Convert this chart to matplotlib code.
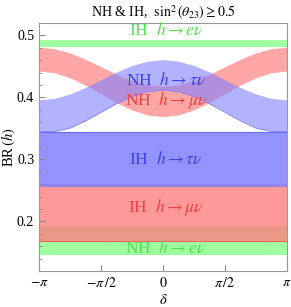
import numpy as np
import matplotlib
matplotlib.use('Agg')
import matplotlib.pyplot as plt

# delta grid, steps of pi/8
delta = np.arange(-8, 9) * np.pi / 8

# NH bands
nh_tau_hi = [0.396, 0.3985, 0.4055, 0.416, 0.4285, 0.441, 0.4515, 0.4585, 0.461,
             0.4585, 0.4515, 0.441, 0.4285, 0.416, 0.4055, 0.3985, 0.396]
nh_tau_lo = [0.345, 0.345, 0.3505, 0.3622, 0.376, 0.3898, 0.4015, 0.4093, 0.412,
             0.4093, 0.4015, 0.3898, 0.376, 0.3622, 0.3505, 0.345, 0.345]
nh_mu_hi = [0.481, 0.4786, 0.4718, 0.4616, 0.4495, 0.4374, 0.4272, 0.4204, 0.418,
            0.4204, 0.4272, 0.4374, 0.4495, 0.4616, 0.4718, 0.4786, 0.481]
nh_mu_lo = [0.4426, 0.4398, 0.4318, 0.4199, 0.4058, 0.3917, 0.3798, 0.3718, 0.369,
            0.3718, 0.3798, 0.3917, 0.4058, 0.4199, 0.4318, 0.4398, 0.4426]

# flat bands: (low, high)
ih_e = (0.482, 0.493)
ih_tau = (0.255, 0.345)
ih_mu = (0.169, 0.2605)
nh_e = (0.1463, 0.192)

xticks = [-np.pi, -np.pi/2, 0, np.pi/2, np.pi]
xticklabels = [r'$-\pi$', r'$-\pi\,/2$', r'$0$', r'$\pi\,/2$', r'$\pi$']
yticks = [0.2, 0.3, 0.4, 0.5]

plt.rcParams['font.family'] = 'serif'
plt.rcParams['font.serif'] = ['Liberation Serif', 'DejaVu Serif']
plt.rcParams['mathtext.fontset'] = 'stix'

fig = plt.figure(figsize=(2.91, 3.07), dpi=100)
ax = fig.add_axes([0.134, 0.117, 0.852, 0.808])

red = '#ff8080'
blue = '#8080ff'
green = '#80ff80'

# flat bands
ax.fill_between(delta, nh_e[0], nh_e[1], color=green, alpha=0.75, lw=0)
ax.fill_between(delta, ih_mu[0], ih_mu[1], color=red, alpha=0.8, lw=0)
ax.plot(delta, [ih_mu[0]]*len(delta), color='#f06060', lw=0.8)
ax.fill_between(delta, ih_tau[0], ih_tau[1], color=blue, alpha=0.85, lw=0)
ax.plot(delta, [ih_tau[1]]*len(delta), color='#6a6af0', lw=0.8)
ax.fill_between(delta, ih_e[0], ih_e[1], color=green, alpha=0.75, lw=0)

# NH bands varying with delta
ax.fill_between(delta, nh_mu_lo, nh_mu_hi, color=red, alpha=0.7, lw=0)
ax.fill_between(delta, nh_tau_lo, nh_tau_hi, color=blue, alpha=0.6, lw=0)
ax.plot(delta, nh_tau_lo, color='#8080f0', lw=0.5)

ax.set_xlim(-np.pi, np.pi)
ax.set_ylim(0.12, 0.52)

ax.set_xticks(xticks)
ax.set_xticklabels(xticklabels)
ax.set_yticks(yticks)
ax.set_yticks(np.arange(0.12, 0.521, 0.02), minor=True)
ax.tick_params(axis='both', which='major', direction='in', length=4,
               labelsize=10, color='#888888', top=False, right=False)
ax.tick_params(axis='y', which='minor', direction='in', length=2.2,
               color='#888888', right=False)
for s in ax.spines.values():
    s.set_color('#999999')
    s.set_linewidth(0.8)

ax.set_xlabel(r'$\delta$', fontsize=10.5)
ax.xaxis.set_label_coords(0.5, -0.088)
ax.set_ylabel(r'BR$\,(h)$', fontsize=10.5)
ax.yaxis.set_label_coords(-0.085, 0.5)
ax.set_title(r'NH & IH,  $\sin^2(\theta_{23})\geq 0.5$', fontsize=10, pad=4)

# labels
fs = 12.5
ax.text(0.08, 0.508, r'IH  $h\rightarrow e\nu$', color='#55e055', fontsize=fs, ha='center', va='center')
ax.text(0.08, 0.427, r'NH  $h\rightarrow \tau\nu$', color='#4040e8', fontsize=fs, ha='center', va='center')
ax.text(0.08, 0.395, r'NH  $h\rightarrow \mu\nu$', color='#f04040', fontsize=fs, ha='center', va='center')
ax.text(0.08, 0.300, r'IH  $h\rightarrow \tau\nu$', color='#4040e8', fontsize=fs, ha='center', va='center')
ax.text(0.08, 0.222, r'IH  $h\rightarrow \mu\nu$', color='#f04040', fontsize=fs, ha='center', va='center')
ax.text(0.08, 0.156, r'NH  $h\rightarrow e\nu$', color='#55e055', fontsize=fs, ha='center', va='center')

fig.savefig('out.png', dpi=100)
